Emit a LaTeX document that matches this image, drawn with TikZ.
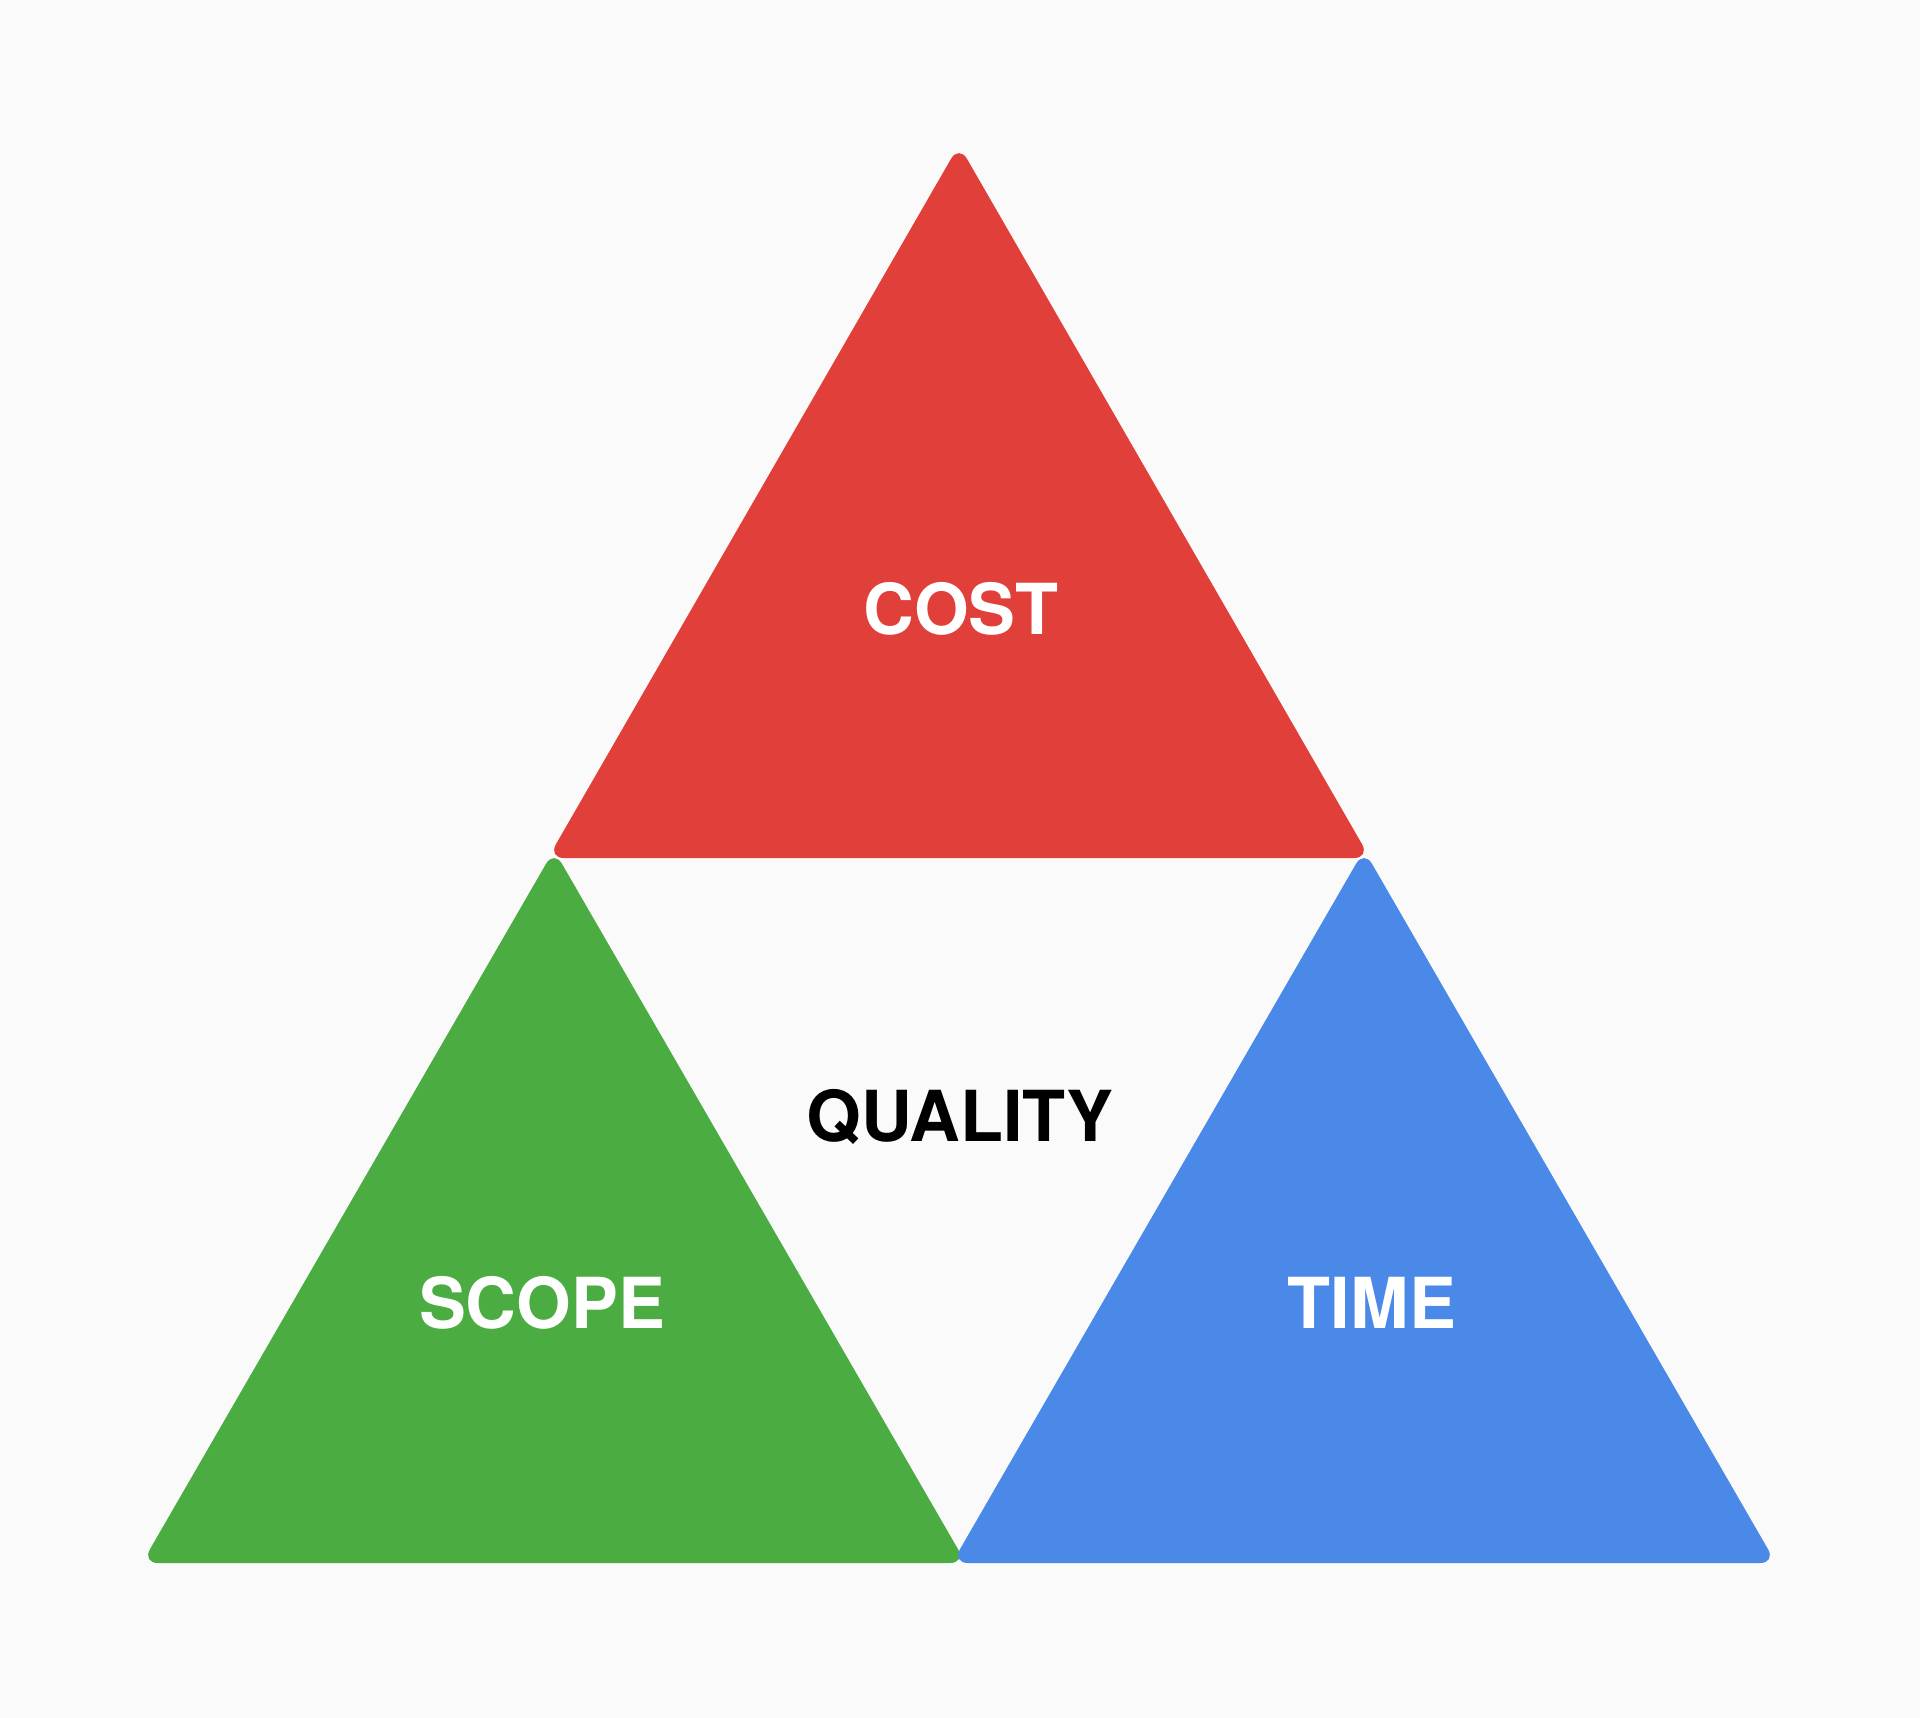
\documentclass[tikz,border=0pt]{standalone}
\usepackage{fontspec}
\setmainfont{TeX Gyre Heros}
\usetikzlibrary{positioning}
\definecolor{bgcol}{HTML}{FAFAFA}
\definecolor{costred}{HTML}{E04039}
\definecolor{scopegreen}{HTML}{4BAC42}
\definecolor{timeblue}{HTML}{4A89E8}
\tikzstyle{tri}=[rounded corners=0.16cm]
\tikzstyle{lbl}=[font=\fontsize{20}{24}\selectfont\bfseries,text=white,anchor=base,inner sep=0pt]
\begin{document}
\begin{tikzpicture}[x=0.01cm,y=-0.01cm]
    \fill[bgcol] (0,0) rectangle (1920,1718);
    \useasboundingbox (0,0) rectangle (1920,1718);
    % corners of the three triangles
    \coordinate (ctop) at (959,145);
    \coordinate (cleft) at (548,858);
    \coordinate (cright) at (1370,858);
    \coordinate (stop) at (554,850);
    \coordinate (sleft) at (142,1563);
    \coordinate (sright) at (966,1563);
    \coordinate (ttop) at (1364,850);
    \coordinate (tleft) at (952,1563);
    \coordinate (tright) at (1776,1563);
    \fill[costred,tri] (ctop) -- (cright) -- (cleft) -- cycle;
    \fill[scopegreen,tri] (stop) -- (sright) -- (sleft) -- cycle;
    \fill[timeblue,tri] (ttop) -- (tright) -- (tleft) -- cycle;
    % labels
    \node (cost) [lbl] at (961,634) {COST};
    \node (quality) [lbl,text=black] at (960,1141) {QUALITY};
    \node (scope) [lbl] at (542,1328) {SCOPE};
    \node (time) [lbl] at (1372,1328) {TIME};
\end{tikzpicture}
\end{document}
